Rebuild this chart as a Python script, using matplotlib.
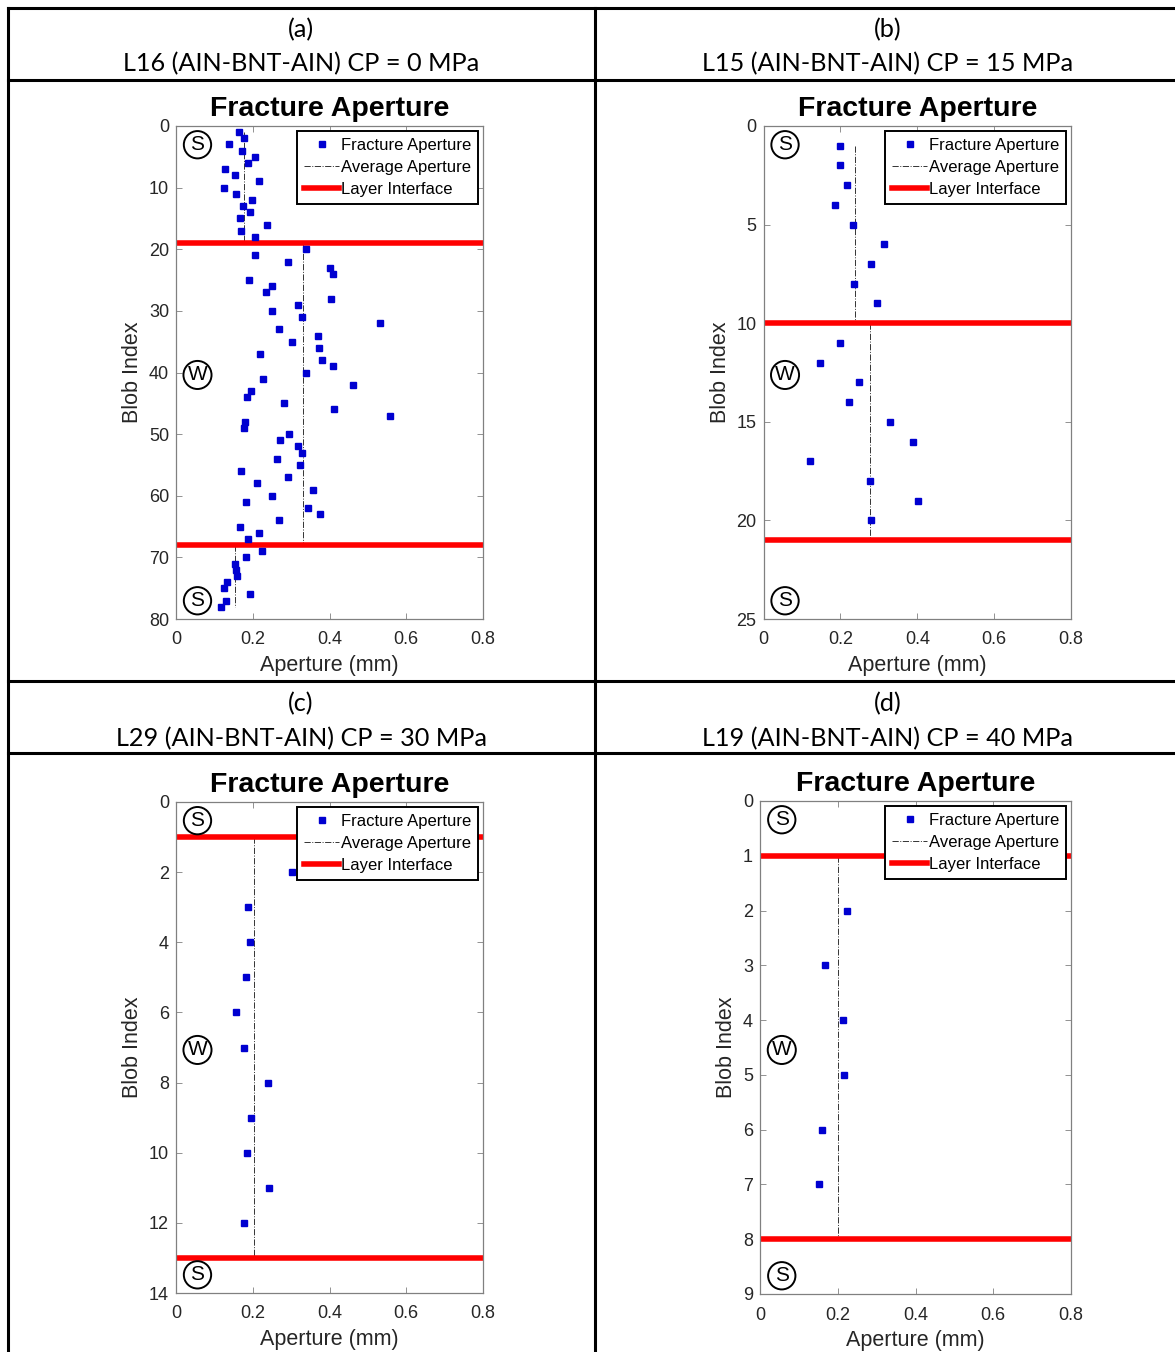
import matplotlib
matplotlib.use("Agg")
import matplotlib.pyplot as plt
from matplotlib.lines import Line2D

W, H = 1175, 1352

# panel headers
letters = ["(a)", "(b)", "(c)", "(d)"]
captions = ["L16 (AIN-BNT-AIN) CP = 0 MPa", "L15 (AIN-BNT-AIN) CP = 15 MPa",
            "L29 (AIN-BNT-AIN) CP = 30 MPa", "L19 (AIN-BNT-AIN) CP = 40 MPa"]

# (a) CP = 0 MPa
a_idx = list(range(1, 19)) + list(range(20, 68)) + list(range(69, 79))
a_ap = [0.164, 0.176, 0.137, 0.172, 0.207, 0.187, 0.127, 0.154, 0.216, 0.124,
        0.156, 0.198, 0.174, 0.193, 0.168, 0.238, 0.169, 0.207,
        0.338, 0.206, 0.292, 0.400, 0.408, 0.190, 0.250, 0.235, 0.403, 0.317,
        0.250, 0.328, 0.531, 0.269, 0.370, 0.301, 0.373, 0.218, 0.381, 0.408,
        0.339, 0.227, 0.462, 0.195, 0.186, 0.281, 0.411, 0.557, 0.180, 0.176,
        0.295, 0.272, 0.318, 0.328, 0.263, 0.324, 0.170, 0.292, 0.211, 0.357,
        0.249, 0.182, 0.343, 0.375, 0.269, 0.168, 0.215, 0.188,
        0.225, 0.182, 0.155, 0.156, 0.158, 0.133, 0.124, 0.193, 0.131, 0.118]
a_avg = [0.176, 0.330, 0.154]
a_avg_span = [(1, 19), (19, 68), (68, 78)]
a_iface = [19, 68]

# (b) CP = 15 MPa
b_idx = list(range(1, 10)) + list(range(11, 21))
b_ap = [0.200, 0.200, 0.217, 0.187, 0.234, 0.313, 0.280, 0.235, 0.295,
        0.200, 0.147, 0.248, 0.222, 0.328, 0.389, 0.120, 0.277, 0.402, 0.279]
b_avg = [0.239, 0.278]
b_avg_span = [(1, 10), (10, 21)]
b_iface = [10, 21]

# (c) CP = 30 MPa
c_idx = list(range(2, 13))
c_ap = [0.301, 0.188, 0.192, 0.183, 0.157, 0.176, 0.241, 0.195, 0.186, 0.242, 0.176]
c_avg = [0.204]
c_avg_span = [(1, 13)]
c_iface = [1, 13]

# (d) CP = 40 MPa
d_idx = list(range(2, 8))
d_ap = [0.223, 0.166, 0.213, 0.215, 0.159, 0.153]
d_avg = [0.201]
d_avg_span = [(1, 8)]
d_iface = [1, 8]

panels = [
    (a_idx, a_ap, a_avg, a_avg_span, a_iface, 80, 10),
    (b_idx, b_ap, b_avg, b_avg_span, b_iface, 25, 5),
    (c_idx, c_ap, c_avg, c_avg_span, c_iface, 14, 2),
    (d_idx, d_ap, d_avg, d_avg_span, d_iface, 9, 1),
]

# axes boxes in pixels: left, top, right, bottom
boxes = [(176, 126, 483, 619), (763.5, 126, 1071, 619),
         (176, 802, 483, 1293), (760, 801, 1071, 1294)]

plt.rcParams['font.family'] = ['Liberation Sans', 'DejaVu Sans']
fig = plt.figure(figsize=(W / 100, H / 100), dpi=100)

def fx(x):
    return x / W

def fy(y):
    return 1 - y / H

# table grid
lw = 2.2
for y in [8, 80, 681, 753]:
    fig.add_artist(Line2D([fx(8), 1], [fy(y), fy(y)], color='black', lw=lw, transform=fig.transFigure))
for x in [8, 595]:
    fig.add_artist(Line2D([fx(x), fx(x)], [fy(8), 0], color='black', lw=lw, transform=fig.transFigure))

hdr_x = [301, 888, 301, 888]
hdr_y = [(30, 64), (30, 64), (704, 739), (704, 739)]
for i in range(4):
    fig.text(fx(hdr_x[i]), fy(hdr_y[i][0]), letters[i], ha='center', va='center',
             fontsize=18.2, family='Lato')
    fig.text(fx(hdr_x[i]), fy(hdr_y[i][1]), captions[i], ha='center', va='center',
             fontsize=18.2, family='Lato')

ax_col = '#262626'
for i, (idx, ap, avg, span, iface, ymax, ystep) in enumerate(panels):
    l, t, r, b = boxes[i]
    ax = fig.add_axes([fx(l), fy(b), (r - l) / W, (b - t) / H])
    ax.plot(ap, idx, 's', color='#0000d0', markersize=4.8, label='Fracture Aperture', zorder=3)
    for k, v in enumerate(avg):
        ax.plot([v, v], span[k], color='#333333', lw=0.7, ls='-.',
                label='Average Aperture' if k == 0 else None, zorder=2)
    for k, yv in enumerate(iface):
        ax.axhline(yv, color='#ff0000', lw=4, label='Layer Interface' if k == 0 else None, zorder=2)
    ax.set_xlim(0, 0.8)
    ax.set_ylim(ymax, 0)
    ax.set_xticks([0, 0.2, 0.4, 0.6, 0.8])
    ax.set_xticklabels(['0', '0.2', '0.4', '0.6', '0.8'])
    ax.set_yticks(range(0, ymax + 1, ystep))
    ax.tick_params(direction='in', top=True, right=True, length=4, width=0.6,
                   labelsize=13, colors='#808080', labelcolor=ax_col)
    ax.tick_params(axis='x', pad=9)
    ax.tick_params(axis='y', pad=5)
    for s in ax.spines.values():
        s.set_color('#808080')
        s.set_linewidth(0.9)
    ax.set_title('Fracture Aperture', fontsize=20.5, fontweight='bold', pad=7)
    ax.set_xlabel('Aperture (mm)', fontsize=15.5, color=ax_col, labelpad=5)
    ax.set_ylabel('Blob Index', fontsize=15.5, color=ax_col, labelpad=4)
    leg = ax.legend(loc='upper right', fontsize=12, frameon=True, fancybox=False,
                    borderaxespad=0.32, handlelength=2.1, handletextpad=0.1,
                    borderpad=0.4, labelspacing=0.42, markerscale=1.0)
    leg.get_frame().set_edgecolor('black')
    leg.get_frame().set_linewidth(1.4)
    leg.get_frame().set_alpha(1)
    for ypos, lab in [(0.962, 'S'), (0.495, 'W'), (0.037, 'S')]:
        ax.text(0.07, ypos, lab, transform=ax.transAxes, ha='center', va='center',
                fontsize=15, zorder=5,
                bbox=dict(boxstyle='circle,pad=0.2', fc='white', ec='black', lw=1.4))

fig.savefig('out.png', dpi=100)
